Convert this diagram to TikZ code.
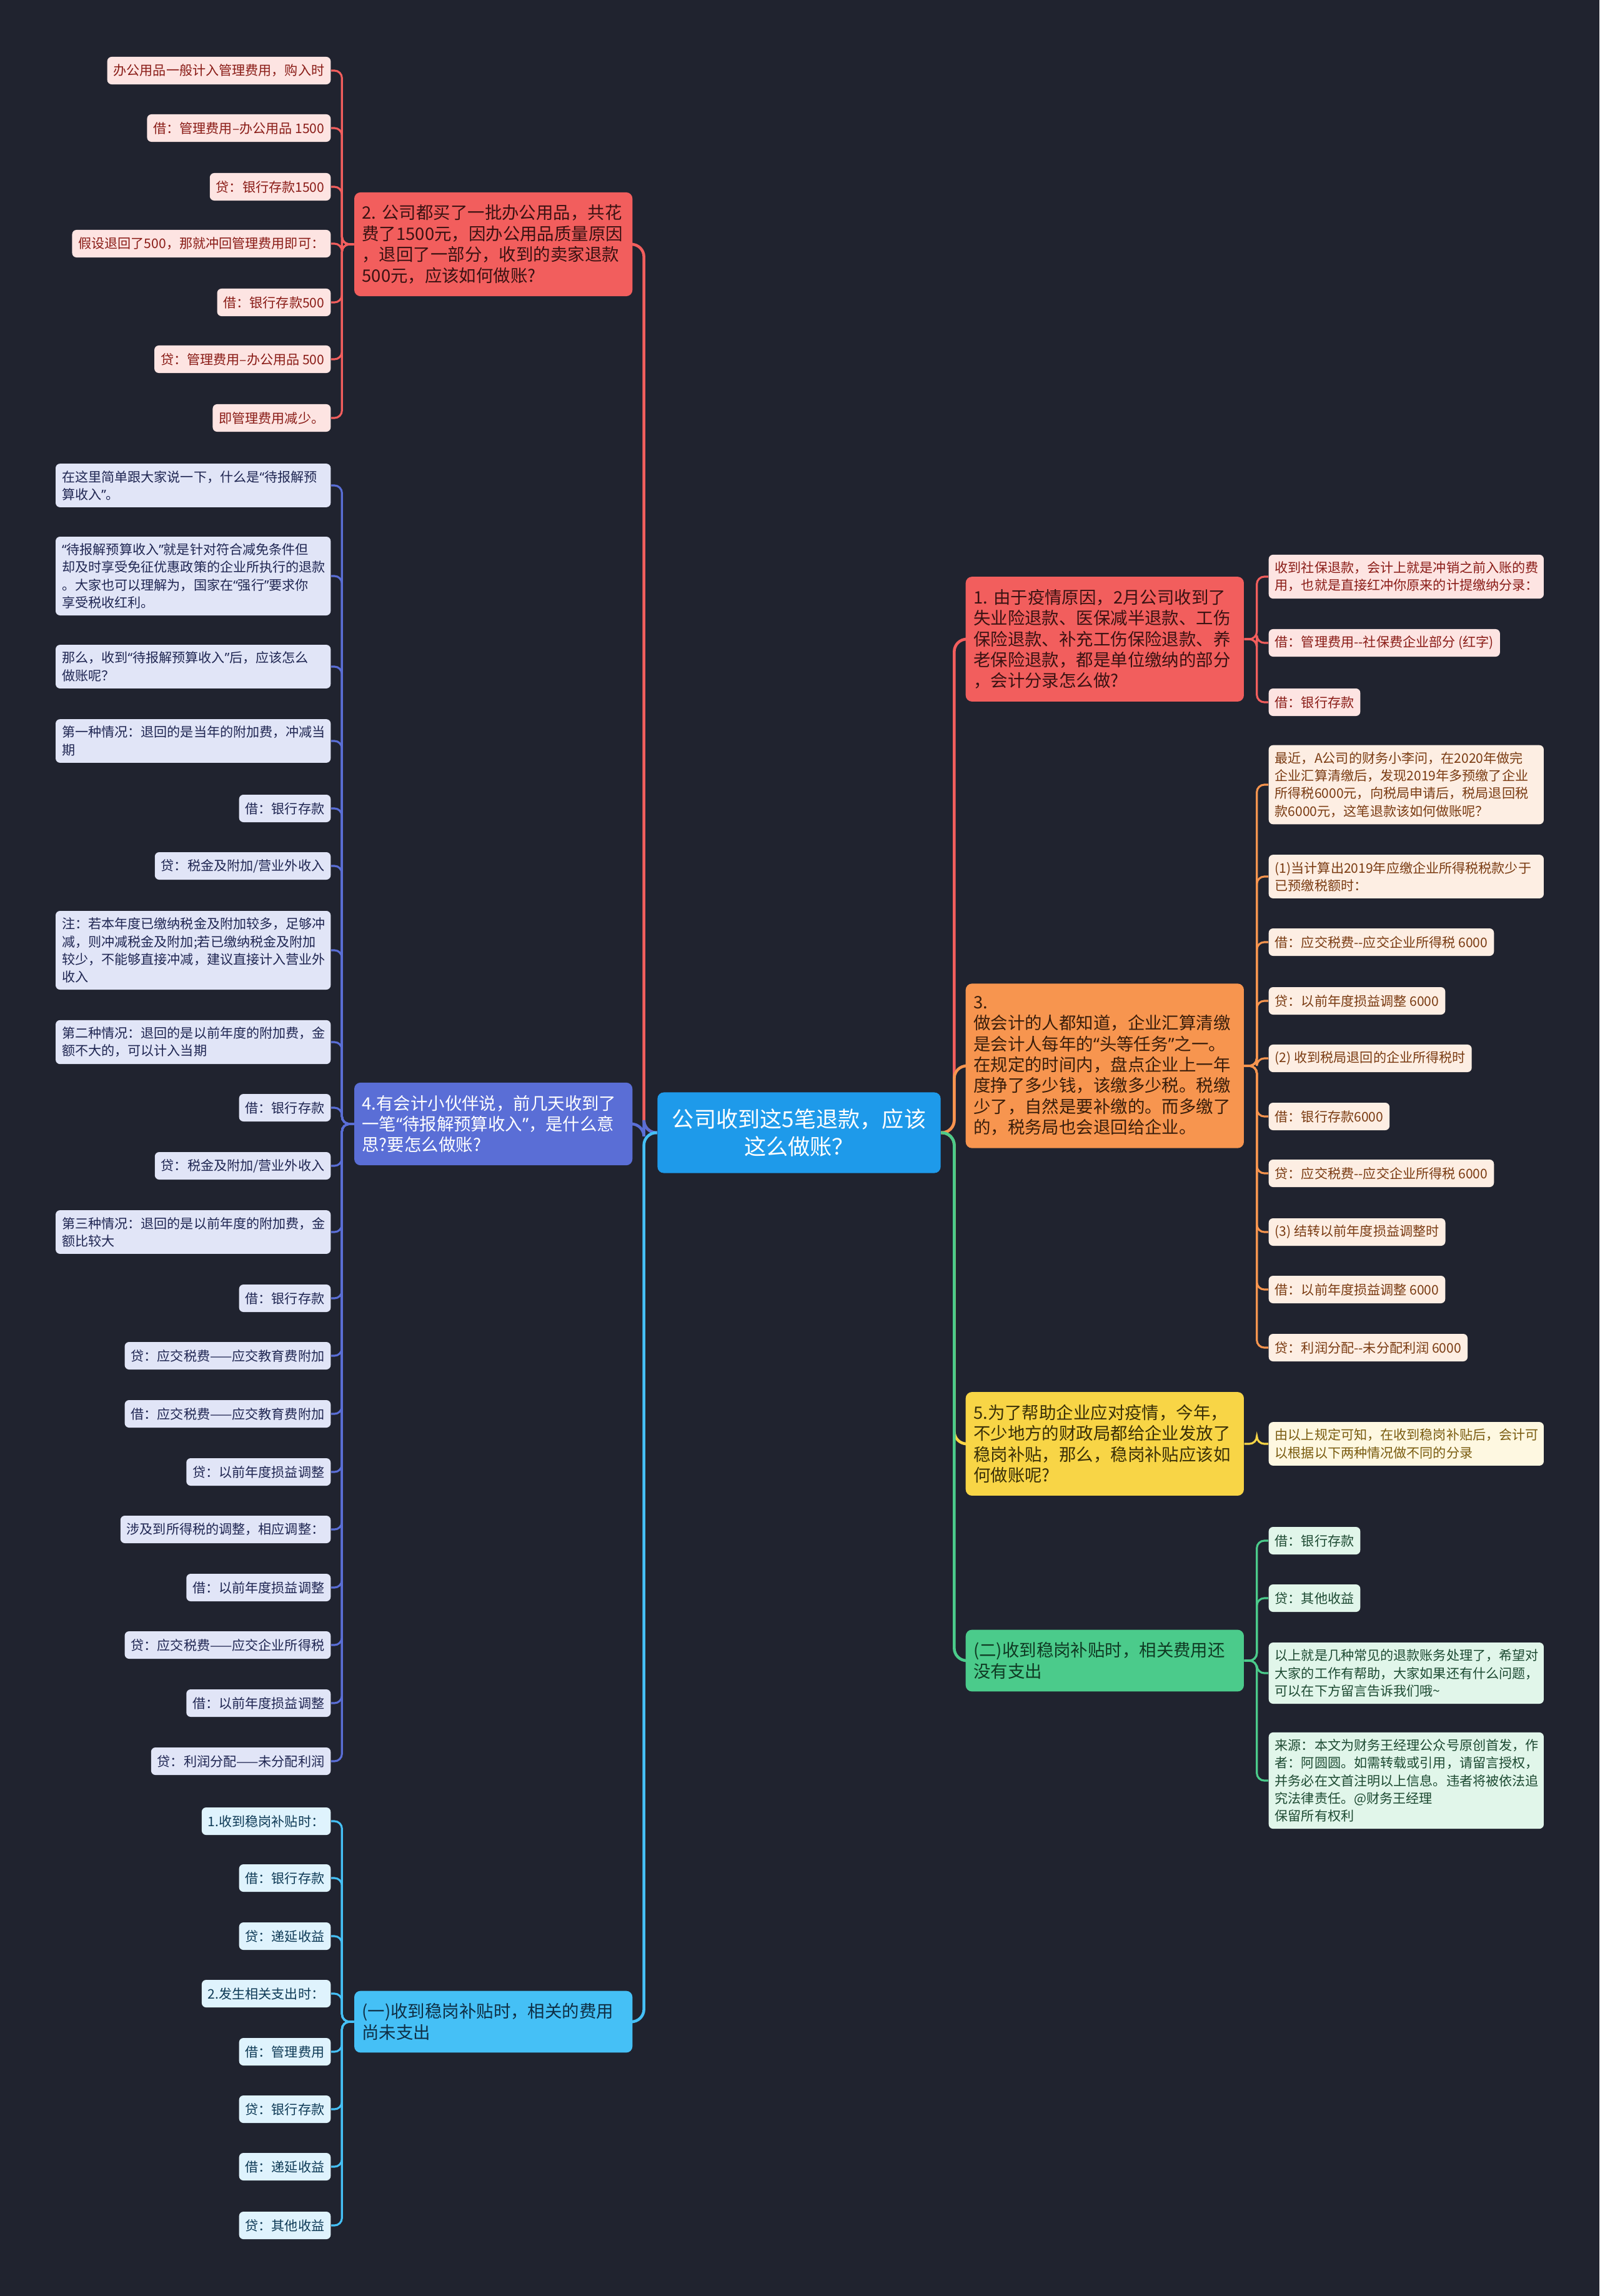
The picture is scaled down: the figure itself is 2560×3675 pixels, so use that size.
\documentclass[tikz,border=0pt]{standalone}
\usepackage{fontspec}
\newfontfamily\cjk{Noto Sans CJK SC}
\newfontfamily\latinq{Noto Sans}
\newcommand\qopen{{\latinq“}}
\newcommand\qclose{{\latinq”}}

\definecolor{bg}{HTML}{20232F}
\definecolor{rootC}{HTML}{1E9AEA}
\definecolor{redC}{HTML}{F25E5D}
\definecolor{redL}{HTML}{FDE4E2}
\definecolor{redT}{HTML}{8A1C17}
\definecolor{redD}{HTML}{3A1212}
\definecolor{oraC}{HTML}{F7954F}
\definecolor{oraL}{HTML}{FDEEE3}
\definecolor{oraT}{HTML}{7A3B12}
\definecolor{oraD}{HTML}{3A1E0B}
\definecolor{yelC}{HTML}{F8D546}
\definecolor{yelL}{HTML}{FEF8E1}
\definecolor{yelT}{HTML}{7A5C10}
\definecolor{yelD}{HTML}{3A3008}
\definecolor{grnC}{HTML}{4BCB8B}
\definecolor{grnL}{HTML}{E1F6EA}
\definecolor{grnT}{HTML}{1D4A32}
\definecolor{grnD}{HTML}{0F3A23}
\definecolor{purC}{HTML}{5A6ED6}
\definecolor{purL}{HTML}{E1E5F7}
\definecolor{purT}{HTML}{1F2652}
\definecolor{skyC}{HTML}{45C0F6}
\definecolor{skyL}{HTML}{DFF3FD}
\definecolor{skyT}{HTML}{0E3A56}
\definecolor{skyD}{HTML}{0F2F45}

\tikzset{
  leaf/.style={rounded corners=0.07cm, inner xsep=0.1cm, inner ysep=0.11cm,
    minimum height=0.44cm, align=left, font=\cjk\fontsize{6}{8}\selectfont},
  wide/.style={text width=4.2cm},
  topic/.style={rounded corners=0.1cm, inner xsep=0.125cm, inner ysep=0.2cm,
    text width=4.2cm, align=left, font=\cjk\fontsize{7.8}{9.5}\selectfont},
  rootbox/.style={rounded corners=0.1cm, fill=rootC, text=white, align=center,
    minimum width=4.53cm, minimum height=1.29cm, font=\cjk\fontsize{10}{12.5}\selectfont},
  wire/.style={line width=0.9pt, rounded corners=0.12cm},
  bigwire/.style={line width=1.3pt, rounded corners=0.2cm},
}

\begin{document}
\begin{tikzpicture}[x=0.01cm,y=-0.01cm]
\fill[bg] (0,0) rectangle (2560,3675);
\useasboundingbox (0,0) rectangle (2560,3675);

% centre
\node[rootbox] (root) at (1279,1813) {公司收到这5笔退款，应该\\这么做账？};

% topics on the left
\node[topic, fill=redC, text=redD, anchor=east] (n2) at (1013,391)
  {2.~公司都买了一批办公用品，共花\\费了1500元，因办公用品质量原因\\，退回了一部分，收到的卖家退款\\500元，应该如何做账?};
\node[topic, fill=purC, text=white, anchor=east] (n4) at (1013,1799)
  {4.有会计小伙伴说，前几天收到了\\一笔\qopen 待报解预算收入\qclose，是什么意\\思?要怎么做账?};
\node[topic, fill=skyC, text=skyD, anchor=east] (n6) at (1013,3236)
  {(一)收到稳岗补贴时，相关的费用\\尚未支出};

% topics on the right
\node[topic, fill=redC, text=redD, anchor=west] (n1) at (1545,1023)
  {1.~由于疫情原因，2月公司收到了\\失业险退款、医保减半退款、工伤\\保险退款、补充工伤保险退款、养\\老保险退款，都是单位缴纳的部分\\，会计分录怎么做?};
\node[topic, fill=oraC, text=oraD, anchor=west] (n3) at (1545,1706)
  {3.\\做会计的人都知道，企业汇算清缴\\是会计人每年的\qopen 头等任务\qclose 之一。\\在规定的时间内，盘点企业上一年\\度挣了多少钱，该缴多少税。税缴\\少了，自然是要补缴的。而多缴了\\的，税务局也会退回给企业。};
\node[topic, fill=yelC, text=yelD, anchor=west] (n5) at (1545,2311)
  {5.为了帮助企业应对疫情，今年，\\不少地方的财政局都给企业发放了\\稳岗补贴，那么，稳岗补贴应该如\\何做账呢?};
\node[topic, fill=grnC, text=grnD, anchor=west] (n7) at (1545,2658)
  {(二)收到稳岗补贴时，相关费用还\\没有支出};

% leaves of 2.
\begin{scope}[every node/.style={leaf, fill=redL, text=redT, anchor=east}]
\node (r1) at (530,113) {办公用品一般计入管理费用，购入时};
\node (r2) at (530,205) {借：管理费用–办公用品 1500};
\node (r3) at (530,299) {贷：银行存款1500};
\node (r4) at (530,390) {假设退回了500，那就冲回管理费用即可：};
\node (r5) at (530,484) {借：银行存款500};
\node (r6) at (530,575) {贷：管理费用–办公用品 500};
\node (r7) at (530,669) {即管理费用减少。};
\end{scope}

% leaves of 4.
\begin{scope}[every node/.style={leaf, fill=purL, text=purT, anchor=east}]
\node[wide] (b1) at (530,777) {在这里简单跟大家说一下，什么是\qopen 待报解预\\算收入\qclose 。};
\node[wide] (b2) at (530,922) {\qopen 待报解预算收入\qclose 就是针对符合减免条件但\\却及时享受免征优惠政策的企业所执行的退款\\。大家也可以理解为，国家在\qopen 强行\qclose 要求你\\享受税收红利。};
\node[wide] (b3) at (530,1067) {那么，收到\qopen 待报解预算收入\qclose 后，应该怎么\\做账呢？};
\node[wide] (b4) at (530,1186) {第一种情况：退回的是当年的附加费，冲减当\\期};
\node (b5) at (530,1294) {借：银行存款};
\node (b6) at (530,1386) {贷：税金及附加/营业外收入};
\node[wide] (b7) at (530,1521) {注：若本年度已缴纳税金及附加较多，足够冲\\减，则冲减税金及附加;若已缴纳税金及附加\\较少，不能够直接冲减，建议直接计入营业外\\收入};
\node[wide] (b8) at (530,1668) {第二种情况：退回的是以前年度的附加费，金\\额不大的，可以计入当期};
\node (b9) at (530,1773) {借：银行存款};
\node (b10) at (530,1866) {贷：税金及附加/营业外收入};
\node[wide] (b11) at (530,1972) {第三种情况：退回的是以前年度的附加费，金\\额比较大};
\node (b12) at (530,2078) {借：银行存款};
\node (b13) at (530,2170) {贷：应交税费——应交教育费附加};
\node (b14) at (530,2263) {借：应交税费——应交教育费附加};
\node (b15) at (530,2356) {贷：以前年度损益调整};
\node (b16) at (530,2448) {涉及到所得税的调整，相应调整：};
\node (b17) at (530,2541) {借：以前年度损益调整};
\node (b18) at (530,2633) {贷：应交税费——应交企业所得税};
\node (b19) at (530,2726) {借：以前年度损益调整};
\node (b20) at (530,2819) {贷：利润分配——未分配利润};
\end{scope}

% leaves of (一)
\begin{scope}[every node/.style={leaf, fill=skyL, text=skyT, anchor=east}]
\node (c1) at (530,2915) {1.收到稳岗补贴时：};
\node (c2) at (530,3006) {借：银行存款};
\node (c3) at (530,3099) {贷：递延收益};
\node (c4) at (530,3191) {2.发生相关支出时：};
\node (c5) at (530,3284) {借：管理费用};
\node (c6) at (530,3376) {贷：银行存款};
\node (c7) at (530,3468) {借：递延收益};
\node (c8) at (530,3562) {贷：其他收益};
\end{scope}

% leaves of 1.
\begin{scope}[every node/.style={leaf, fill=redL, text=redT, anchor=west}]
\node[wide] (s1) at (2030,923) {收到社保退款，会计上就是冲销之前入账的费\\用，也就是直接红冲你原来的计提缴纳分录：};
\node (s2) at (2030,1029) {借：管理费用-{}-社保费企业部分 (红字)};
\node (s3) at (2030,1124) {借：银行存款};
\end{scope}

% leaves of 3.
\begin{scope}[every node/.style={leaf, fill=oraL, text=oraT, anchor=west}]
\node[wide] (o1) at (2030,1256) {最近，A公司的财务小李问，在2020年做完\\企业汇算清缴后，发现2019年多预缴了企业\\所得税6000元，向税局申请后，税局退回税\\款6000元，这笔退款该如何做账呢？};
\node[wide] (o2) at (2030,1403) {(1)当计算出2019年应缴企业所得税税款少于\\已预缴税额时：};
\node (o3) at (2030,1508) {借：应交税费-{}-应交企业所得税 6000};
\node (o4) at (2030,1602) {贷：以前年度损益调整 6000};
\node (o5) at (2030,1694) {(2) 收到税局退回的企业所得税时};
\node (o6) at (2030,1787) {借：银行存款6000};
\node (o7) at (2030,1878) {贷：应交税费-{}-应交企业所得税 6000};
\node (o8) at (2030,1972) {(3) 结转以前年度损益调整时};
\node (o9) at (2030,2064) {借：以前年度损益调整 6000};
\node (o10) at (2030,2157) {贷：利润分配-{}-未分配利润 6000};
\end{scope}

% leaf of 5.
\node[leaf, wide, fill=yelL, text=yelT, anchor=west] (y1) at (2030,2311) {由以上规定可知，在收到稳岗补贴后，会计可\\以根据以下两种情况做不同的分录};

% leaves of (二)
\begin{scope}[every node/.style={leaf, fill=grnL, text=grnT, anchor=west}]
\node (g1) at (2030,2466) {借：银行存款};
\node (g2) at (2030,2558) {贷：其他收益};
\node[wide] (g3) at (2030,2678) {以上就是几种常见的退款账务处理了，希望对\\大家的工作有帮助，大家如果还有什么问题，\\可以在下方留言告诉我们哦\textasciitilde};
\node[wide] (g4) at (2030,2850) {来源：本文为财务王经理公众号原创首发，作\\者：阿圆圆。如需转载或引用，请留言授权，\\并务必在文首注明以上信息。违者将被依法追\\究法律责任。@财务王经理\\保留所有权利};
\end{scope}

% connectors
\foreach \n/\c in {n2/redC,n4/purC,n6/skyC}
  \draw[bigwire,\c] (\n.east) -| ([xshift=-0.21cm]root.west) -- (root.west);
\foreach \n/\c in {n1/redC,n3/oraC,n5/yelC,n7/grnC}
  \draw[bigwire,\c] (\n.west) -| ([xshift=0.21cm]root.east) -- (root.east);

\foreach \i in {1,...,7}
  \draw[wire,redC] (r\i.east) -| ([xshift=-0.19cm]n2.west) -- (n2.west);
\foreach \i in {1,...,20}
  \draw[wire,purC] (b\i.east) -| ([xshift=-0.19cm]n4.west) -- (n4.west);
\foreach \i in {1,...,8}
  \draw[wire,skyC] (c\i.east) -| ([xshift=-0.19cm]n6.west) -- (n6.west);
\foreach \i in {1,2,3}
  \draw[wire,redC] (s\i.west) -| ([xshift=0.2cm]n1.east) -- (n1.east);
\foreach \i in {1,...,10}
  \draw[wire,oraC] (o\i.west) -| ([xshift=0.2cm]n3.east) -- (n3.east);
\draw[wire,yelC] (y1.west) -| ([xshift=0.2cm]n5.east) -- (n5.east);
\foreach \i in {1,...,4}
  \draw[wire,grnC] (g\i.west) -| ([xshift=0.2cm]n7.east) -- (n7.east);
\end{tikzpicture}
\end{document}
